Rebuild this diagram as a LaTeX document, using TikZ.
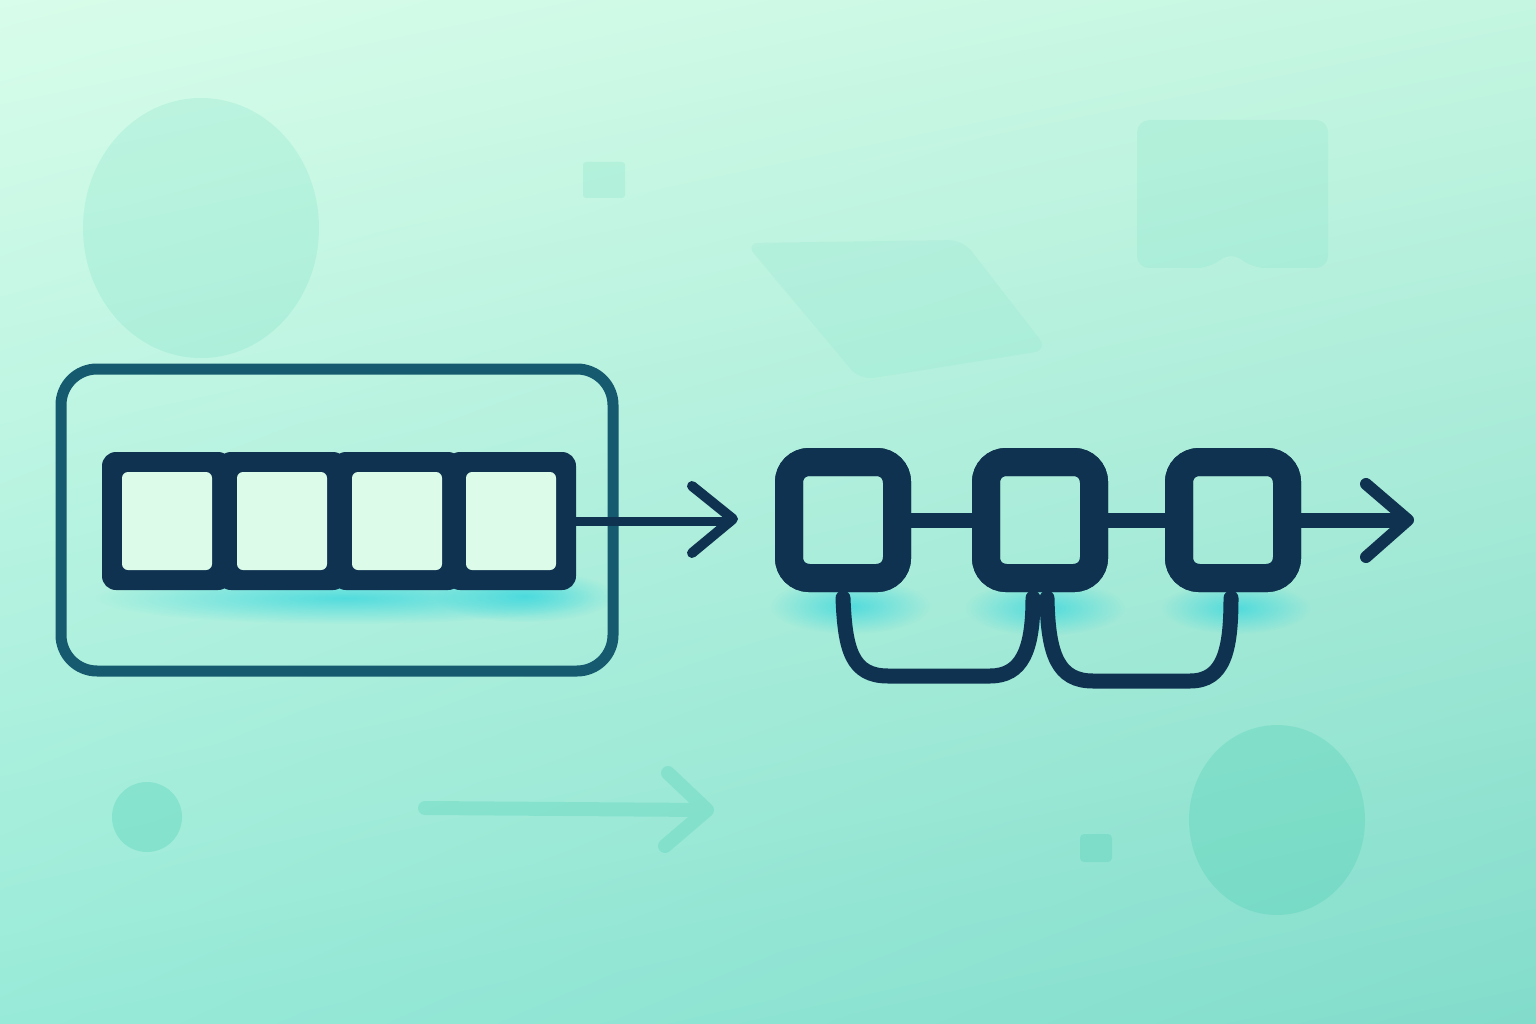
\documentclass[tikz,border=0pt]{standalone}
\usetikzlibrary{fadings,shadings}
\definecolor{navy}{HTML}{0F3250}
\definecolor{framec}{HTML}{155A6F}
\definecolor{cellfill}{HTML}{DCFBE8}
\definecolor{deco}{HTML}{30C8A8}
\definecolor{glowc}{HTML}{35D6DE}
\definecolor{bgTL}{HTML}{D8FDEA}
\definecolor{bgTR}{HTML}{C4F6E1}
\definecolor{bgBL}{HTML}{98EAD8}
\definecolor{bgBR}{HTML}{82DCCB}
\tikzfading[name=glowfade, inner color=transparent!25, outer color=transparent!100]
\begin{document}
\begin{tikzpicture}[x=1pt,y=-1pt,
  framebox/.style={draw=framec, line width=11, rounded corners=36, minimum width=552, minimum height=302, inner sep=0},
  cellout/.style={fill=navy, minimum width=130, minimum height=138, rounded corners=14, inner sep=0},
  cellin/.style={fill=cellfill, minimum width=90, minimum height=98, rounded corners=6, inner sep=0},
  lnode/.style={draw=navy, line width=28, rounded corners=20, minimum width=108, minimum height=116, inner sep=0},
  link/.style={draw=navy, line width=15},
  thinlink/.style={draw=navy, line width=9},
  headl/.style={draw=navy, line width=10, line cap=round, line join=round},
  loopc/.style={draw=navy, line width=15, line cap=round},
  glow/.style={fill=glowc, path fading=glowfade},
  decofill/.style={fill=deco}
]
\useasboundingbox (0,0) rectangle (1536,1024);
\shade[upper left=bgTL, upper right=bgTR, lower left=bgBL, lower right=bgBR] (0,0) rectangle (1536,1024);

% background decorations
\fill[decofill, opacity=0.12] (201,228) ellipse [x radius=118, y radius=130];
\fill[decofill, opacity=0.12, rounded corners=3] (583,162) rectangle (625,198);
\fill[decofill, opacity=0.07, rounded corners=14] (745,243) -- (963,240) -- (1048,350) -- (860,380) -- cycle;
\fill[decofill, opacity=0.09, rounded corners=12] (1137,120) -- (1328,120) -- (1328,268) -- (1253,268) -- (1231,252) -- (1209,268) -- (1137,268) -- cycle;
\fill[decofill, opacity=0.25] (147,817) circle [radius=35];
\fill[decofill, opacity=0.22, rounded corners=4] (1080,834) rectangle (1112,862);
\fill[decofill, opacity=0.22] (1277,820) ellipse [x radius=88, y radius=95];
\begin{scope}[transparency group, opacity=0.22]
\draw[deco, line width=14, line cap=round, line join=round] (425,808) -- (705,810) (668,773) -- (707,810) -- (665,846);
\end{scope}

% glows
\fill[glow] (345,598) ellipse [x radius=250, y radius=26];
\fill[glow] (525,596) ellipse [x radius=90, y radius=26];
\fill[glow] (850,606) ellipse [x radius=80, y radius=28];
\fill[glow] (1045,608) ellipse [x radius=80, y radius=28];
\fill[glow] (1236,608) ellipse [x radius=75, y radius=26];

% left group
\node[framebox] (box) at (337,520) {};
\node[cellout] (c1) at (167,521) {};
\node[cellout] (c2) at (282,521) {};
\node[cellout] (c3) at (397,521) {};
\node[cellout] (c4) at (511,521) {};
\node[cellin] (i1) at (c1) {};
\node[cellin] (i2) at (c2) {};
\node[cellin] (i3) at (c3) {};
\node[cellin] (i4) at (c4) {};

\coordinate (a1) at (733,519);
\draw[thinlink] (c4.east) -- (c4.east -| a1);
\draw[headl] (a1) ++(-41,-33) -- (a1) -- ++(-41,34);

% linked list
\coordinate (a2) at (1408,520);
\node[lnode] (l1) at (843,520) {};
\node[lnode] (l2) at (1040,520) {};
\node[lnode] (l3) at (1233,520) {};
\draw[loopc] ([yshift=-6]l1.south) .. controls (845,650) and (852,676) .. (888,676) -- (990,676) .. controls (1022,676) and (1033,650) .. ([xshift=-7,yshift=-6]l2.south);
\draw[loopc] ([xshift=7,yshift=-6]l2.south) .. controls (1048,655) and (1058,681) .. (1093,681) -- (1190,681) .. controls (1224,681) and (1231,650) .. ([xshift=-2,yshift=-6]l3.south);
\node[lnode] at (l1) {};
\node[lnode] at (l2) {};
\node[lnode] at (l3) {};
\draw[link] (l1.east) -- (l2.west);
\draw[link] (l2.east) -- (l3.west);
\draw[link] (l3.east) -- (a2);
\draw[headl, line width=12] (a2) ++(-42,-36) -- (a2) -- ++(-42,37);
\end{tikzpicture}
\end{document}
